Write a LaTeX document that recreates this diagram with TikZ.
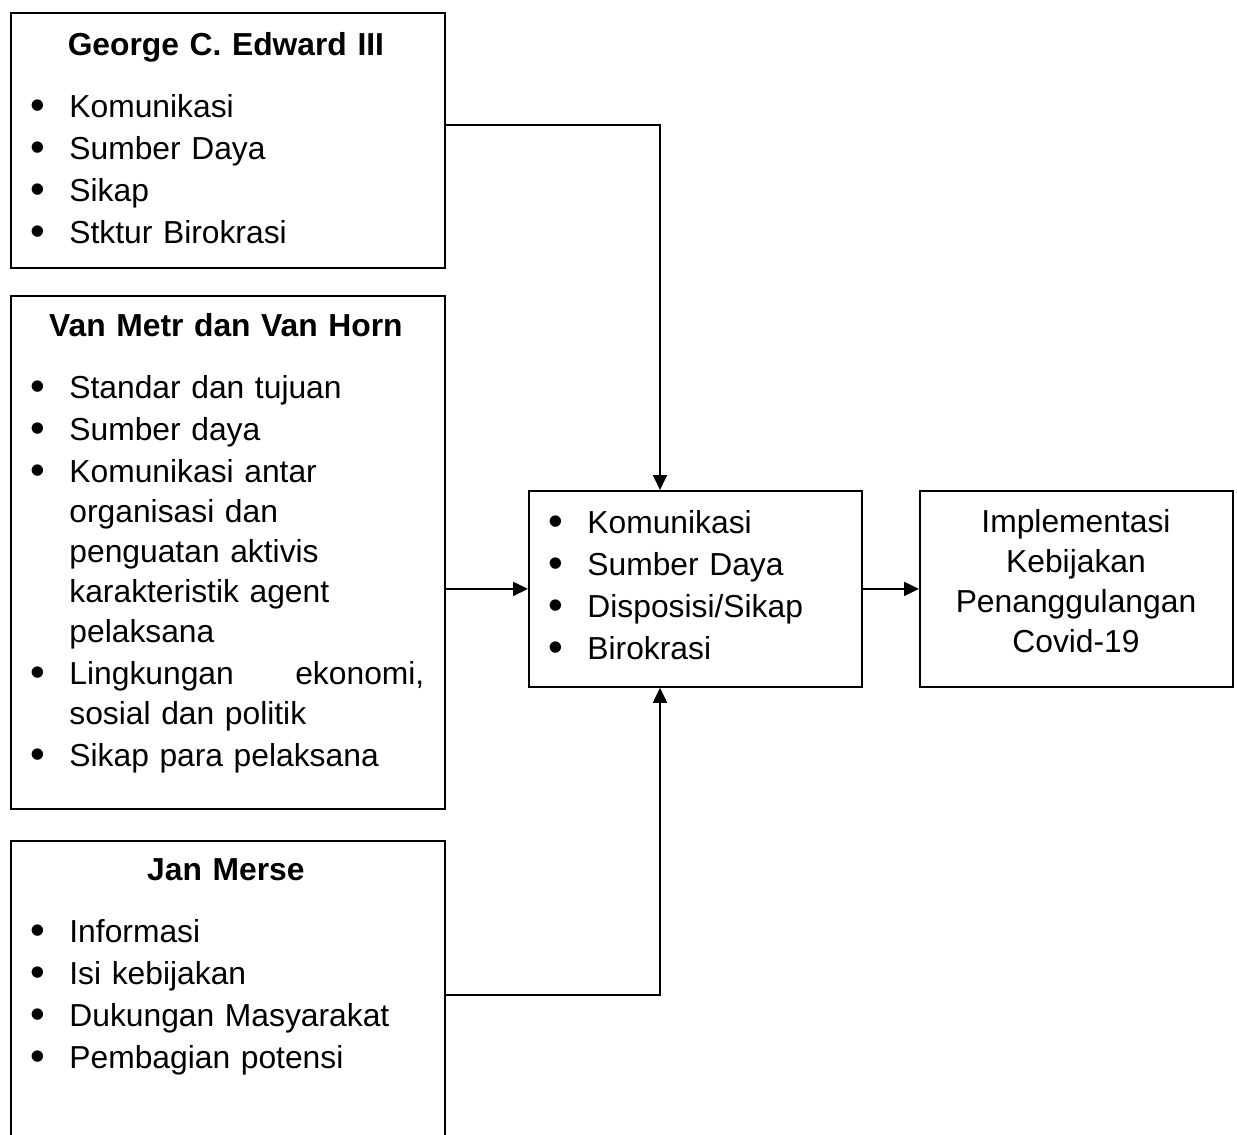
\documentclass[tikz,border=0pt]{standalone}
\usepackage{fontspec}
\setmainfont{Liberation Sans}
\usetikzlibrary{arrows.meta}

\newcommand{\butir}[1]{\hangindent=21pt\hangafter=1\noindent
  \makebox[10.5pt][c]{\raisebox{-1pt}{\fontsize{21}{20}\selectfont\textbullet}}\hspace{10.5pt}#1\par}
\newcommand{\judul}[1]{{\centering\bfseries #1\par}\vspace{10pt}}

\begin{document}
\begin{tikzpicture}[x=0.5pt, y=-0.5pt,
  kotak/.style={draw, line width=0.9pt, inner sep=0pt, anchor=north west},
  isi/.style={inner sep=0pt, anchor=base west, text width=198.5pt,
    font=\fontsize{15.9}{20}\selectfont},
  panah/.style={line width=0.9pt, -{Triangle[length=7.5pt,width=7pt]}}]
\clip (0,0) rectangle (1237,1135);
% kotak teori
\node[kotak, minimum width=217pt, minimum height=127.5pt] (edward) at (10,12) {};
\node[kotak, minimum width=217pt, minimum height=256.5pt] (vanmetr) at (10,295) {};
\node[kotak, minimum width=217pt, minimum height=160pt] (merse) at (10,840) {};
\node[kotak, minimum width=166.5pt, minimum height=98pt] (tengah) at (528,490) {};
\node[kotak, minimum width=156.5pt, minimum height=98pt] (hasil) at (919,490) {};

\node[isi] (edwardisi) at (27,55) {\parskip=1pt
  \judul{George C. Edward III}
  \butir{Komunikasi}
  \butir{Sumber Daya}
  \butir{Sikap}
  \butir{Stktur Birokrasi}};
\node[isi] (vanmetrisi) at (27,336) {\parskip=1pt
  \judul{Van Metr dan Van Horn}
  \butir{Standar dan tujuan}
  \butir{Sumber daya}
  \butir{Komunikasi antar\newline organisasi dan\newline penguatan aktivis\newline karakteristik agent\newline pelaksana}
  \butir{Lingkungan\hfill ekonomi,\newline sosial dan politik}
  \butir{Sikap para pelaksana}};
\node[isi] (merseisi) at (27,880) {\parskip=1pt
  \judul{Jan Merse}
  \butir{Informasi}
  \butir{Isi kebijakan}
  \butir{Dukungan Masyarakat}
  \butir{Pembagian potensi}};
\node[isi, text width=152pt] (tengahisi) at (545,533) {\parskip=1pt
  \butir{Komunikasi}
  \butir{Sumber Daya}
  \butir{Disposisi/Sikap}
  \butir{Birokrasi}};
\node[anchor=north, align=center, inner sep=0pt, font=\fontsize{15.9}{20}\selectfont] (hasilisi) at (1076,509)
  {Implementasi\\ Kebijakan\\ Penanggulangan\\ Covid-19};

\coordinate (k1) at (660,125);
\coordinate (k3) at (660,995);
\draw[panah] (k1 -| edward.east) -- (k1) -- (k1 |- tengah.north);
\draw[panah] (tengah.west -| vanmetr.east) -- (tengah.west);
\draw[panah] (k3 -| merse.east) -- (k3) -- (k3 |- tengah.south);
\draw[panah] (tengah.east) -- (hasil.west);
\end{tikzpicture}
\end{document}
